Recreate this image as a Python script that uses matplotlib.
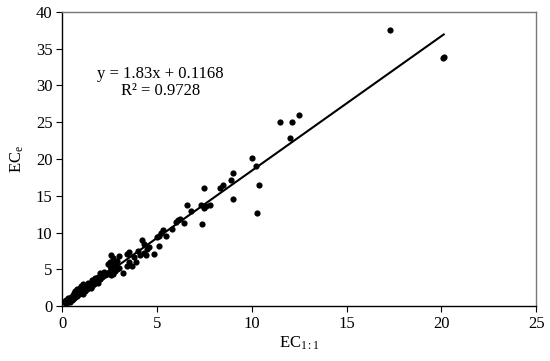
import matplotlib
matplotlib.use("Agg")
import matplotlib.pyplot as plt
import numpy as np

plt.rcParams["mathtext.fontset"] = "custom"
plt.rcParams["mathtext.rm"] = "Liberation Serif"
plt.rcParams["mathtext.it"] = "Liberation Serif:italic"
plt.rcParams["mathtext.bf"] = "Liberation Serif:bold"

# EC1:1 vs ECe values
ec11 = [0.1, 0.15, 0.2, 0.2, 0.25, 0.3, 0.3, 0.35, 0.4, 0.4, 0.45, 0.5, 0.5, 0.55,
        0.6, 0.6, 0.65, 0.7, 0.7, 0.75, 0.8, 0.8, 0.85, 0.9, 0.9, 0.95, 1.0, 1.0,
        1.05, 1.1, 1.1, 1.15, 1.2, 1.25, 1.3, 1.35, 1.4, 1.5, 1.5, 1.6, 1.6, 1.7,
        1.75, 1.8, 1.9, 1.9, 2.0, 2.0, 2.1, 2.2, 2.1, 2.3, 2.4, 2.5, 2.5, 2.6, 2.6,
        2.6, 2.7, 2.7, 2.8, 2.8, 2.9, 2.9, 3.0, 3.0, 3.2, 3.4, 3.4, 3.5, 3.5, 3.7,
        3.8, 3.9, 4.0, 4.1, 4.2, 4.3, 4.3, 4.4, 4.5, 4.6, 4.85, 5.1, 5.1, 5.3, 5.2,
        5.5, 5.0, 5.8, 6.0, 6.2, 6.4, 6.1, 6.6, 6.8, 7.3, 7.5, 7.4, 7.6, 7.8, 7.5,
        8.3, 8.5, 8.9, 9.0, 9.0, 10.0, 10.2, 10.4, 10.3, 11.5, 12.0, 12.1, 12.5,
        17.3, 20.1, 20.12,
        0.2, 0.3, 0.45, 0.55, 0.65, 0.75, 0.85, 0.95, 1.05, 1.2, 1.3, 1.45, 1.55,
        1.65, 1.85, 1.95, 2.05, 2.25, 2.35, 2.45, 0.35, 0.5, 0.7, 0.9, 1.0, 1.15,
        1.4, 1.7, 2.2, 2.65, 2.75, 2.55]
ece = [0.5, 0.7, 0.6, 0.9, 0.8, 0.7, 1.1, 0.9, 1.0, 0.6, 1.3, 0.9, 1.2, 1.5,
       1.1, 1.4, 1.8, 1.2, 2.0, 1.6, 2.3, 1.4, 1.9, 1.7, 2.2, 2.5, 1.8, 2.8,
       2.1, 3.0, 1.6, 2.4, 2.0, 2.7, 2.3, 3.2, 2.6, 2.5, 3.0, 3.5, 2.8, 3.0,
       3.8, 3.3, 4.0, 3.2, 4.5, 3.7, 4.2, 4.6, 3.9, 4.4, 5.7, 5.5, 6.0, 4.2, 7.0,
       4.8, 6.5, 4.4, 5.8, 4.8, 5.0, 6.2, 6.8, 5.2, 4.5, 5.4, 7.1, 7.3, 6.0, 5.5,
       6.7, 6.0, 7.5, 7.0, 9.0, 8.5, 7.2, 7.0, 7.8, 8.0, 7.1, 8.2, 9.6, 10.4, 9.9,
       9.5, 9.4, 10.5, 11.5, 11.8, 11.3, 11.7, 13.8, 12.9, 13.7, 16.1, 11.1, 13.6, 13.7, 13.3,
       16.0, 16.4, 17.1, 18.1, 14.6, 20.2, 19.0, 16.4, 12.6, 25.0, 22.8, 25.0, 26.0,
       37.6, 33.8, 33.9,
       0.4, 0.6, 0.8, 1.0, 1.3, 1.5, 1.6, 1.9, 2.0, 2.2, 2.6, 2.8, 3.0,
       3.2, 3.6, 3.8, 4.0, 4.2, 4.4, 4.6, 0.8, 1.0, 1.5, 1.9, 2.2, 2.2,
       2.7, 3.3, 4.2, 5.2, 5.3, 5.0]

slope = 1.83
intercept = 0.1168
r2 = 0.9728

serif = ["Liberation Serif", "DejaVu Serif"]

fig = plt.figure(figsize=(5.5, 3.61), dpi=100)
ax = fig.add_axes([0.113, 0.152, 0.862, 0.815])

ax.scatter(ec11, ece, s=20, color="black", zorder=3, linewidths=0)
xs = np.array([min(ec11), max(ec11)])
ax.plot(xs, slope * xs + intercept, color="black", lw=1.5, zorder=2)

ax.set_xlim(0, 25)
ax.set_ylim(0, 40)
ax.set_xticks(range(0, 26, 5))
ax.set_yticks(range(0, 41, 5))

for side in ["top", "right"]:
    ax.spines[side].set_color("#777777")
for side in ["left", "bottom"]:
    ax.spines[side].set_color("black")
for sp in ax.spines.values():
    sp.set_linewidth(1.0)

ax.tick_params(direction="out", length=4, width=0.8, labelsize=12, pad=3)
for lab in ax.get_xticklabels() + ax.get_yticklabels():
    lab.set_family(serif)

ax.set_xlabel("EC$_{\\mathrm{1:1}}$", family=serif, fontsize=12, labelpad=2)
ax.set_ylabel("EC$_{\\mathrm{e}}$", family=serif, fontsize=12, labelpad=7)

ax.text(5.2, 30.4, f"y = {slope}x + {intercept}\nR² = {r2}", family=serif,
        fontsize=12, ha="center", va="center", linespacing=1.1)

fig.savefig("out.png", dpi=100)
